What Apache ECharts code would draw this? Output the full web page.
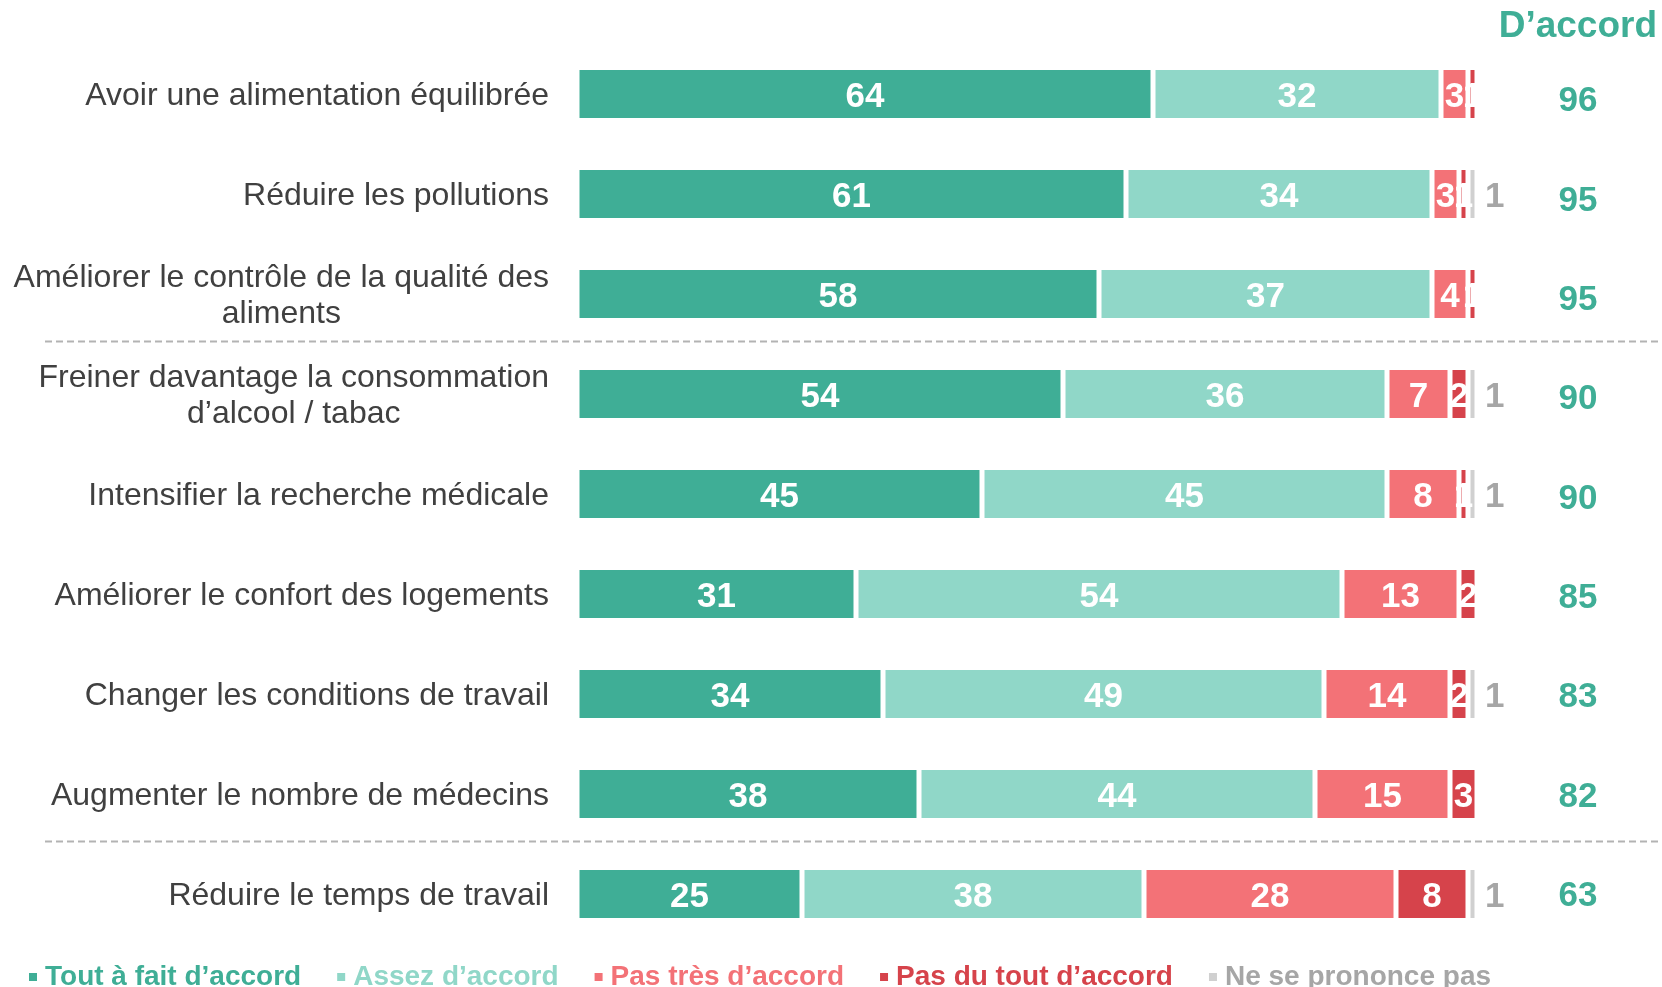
<!DOCTYPE html>
<html>
<head>
<meta charset="utf-8">
<script src="https://cdn.jsdelivr.net/npm/echarts@6/dist/echarts.min.js"></script>
<style>
  html, body { margin: 0; padding: 0; background: #fff; }
</style>
</head>
<body>
<div id="main" style="width: 1662px;height:987px;"></div>
<script type="text/javascript">
    // données
    var categories = [
        'Avoir une alimentation équilibrée',
        'Réduire les pollutions',
        'Améliorer le contrôle de la qualité des\naliments',
        'Freiner davantage la consommation\nd’alcool / tabac',
        'Intensifier la recherche médicale',
        'Améliorer le confort des logements',
        'Changer les conditions de travail',
        'Augmenter le nombre de médecins',
        'Réduire le temps de travail'
    ];
    var toutAFait = [64, 61, 58, 54, 45, 31, 34, 38, 25];
    var assez = [32, 34, 37, 36, 45, 54, 49, 44, 38];
    var pasTres = [3, 3, 4, 7, 8, 13, 14, 15, 28];
    var pasDuTout = [1, 1, 1, 2, 1, 2, 2, 3, 8];
    var nsp = [0, 1, 0, 1, 1, 0, 1, 0, 1];
    var dAccord = [96, 95, 95, 90, 90, 85, 83, 82, 63];

    var seriesNames = ['Tout à fait d’accord', 'Assez d’accord', 'Pas très d’accord', 'Pas du tout d’accord', 'Ne se prononce pas'];
    var colors = ['#3fae96', '#90d7c8', '#f37277', '#d6434b', '#d0d0d0'];
    var legendTextColors = ['#3fae96', '#90d7c8', '#f37277', '#d6434b', '#a6a6a6'];
    var values = [toutAFait, assez, pasTres, pasDuTout, nsp];

    var sans = "'Liberation Sans', Arial, sans-serif";

    var myChart = echarts.init(document.getElementById('main'));

    var series = values.map(function (arr, i) {
        var last = (i === 4);
        return {
            name: seriesNames[i],
            type: 'bar',
            stack: 'total',
            barWidth: 53,
            data: arr,
            itemStyle: {
                color: colors[i],
                borderColor: '#fff',
                borderWidth: 2.5
            },
            label: {
                show: true,
                position: last ? 'right' : 'inside',
                distance: 8,
                offset: [0, 3],
                color: last ? '#a6a6a6' : '#fff',
                fontFamily: sans,
                fontWeight: 'bold',
                fontSize: 35,
                formatter: function (p) {
                    return p.value ? String(p.value) : '';
                }
            },
            emphasis: { disabled: true }
        };
    });

    var option = {
        animation: false,
        title: {
            text: 'D’accord',
            right: 5,
            top: 8,
            padding: 0,
            textStyle: {
                color: '#3fae96',
                fontFamily: sans,
                fontWeight: 'bold',
                fontSize: 37
            }
        },
        legend: {
            left: 24,
            top: 957,
            icon: 'rect',
            itemWidth: 8,
            itemHeight: 8,
            itemGap: 36,
            selectedMode: false,
            data: seriesNames.map(function (n, i) {
                return {
                    name: n,
                    itemStyle: { color: colors[i], borderWidth: 0 },
                    textStyle: { color: legendTextColors[i] }
                };
            }),
            textStyle: {
                fontFamily: sans,
                fontWeight: 'bold',
                fontSize: 28,
                lineHeight: 30,
                padding: [0, 0, 0, 3]
            }
        },
        grid: [{
            left: 577,
            right: 185,
            top: 44,
            bottom: 43
        }, {
            // colonne « D’accord », espacement légèrement différent
            left: 577,
            right: 185,
            top: 52,
            bottom: 41
        }],
        xAxis: [{
            type: 'value',
            min: 0,
            max: 100,
            show: false
        }, {
            type: 'value',
            gridIndex: 1,
            min: 0,
            max: 100,
            show: false
        }],
        yAxis: [{
            type: 'category',
            inverse: true,
            data: categories,
            axisLine: { show: false },
            axisTick: { show: false },
            axisLabel: {
                margin: 28,
                padding: [4, 0, 0, 0],
                formatter: function (v) {
                    return v.split('\n').map(function (l) { return '{c|' + l + '}'; }).join('\n');
                },
                rich: {
                    c: {
                        align: 'center',
                        color: '#404040',
                        fontFamily: sans,
                        fontSize: 32,
                        lineHeight: 36
                    }
                }
            }
        }, {
            type: 'category',
            gridIndex: 1,
            inverse: true,
            position: 'right',
            data: dAccord.map(String),
            axisLine: { show: false },
            axisTick: { show: false },
            axisLabel: {
                margin: 101,
                align: 'center',
                padding: [6, 0, 0, 0],
                color: '#3fae96',
                fontFamily: sans,
                fontWeight: 'bold',
                fontSize: 35
            }
        }],
        series: series
    };
    myChart.setOption(option);

    // lignes pointillées de séparation entre groupes
    var sepAfter = [2, 7];
    var lines = sepAfter.map(function (idx) {
        var y1 = myChart.convertToPixel({ yAxisIndex: 0 }, categories[idx]);
        var y2 = myChart.convertToPixel({ yAxisIndex: 0 }, categories[idx + 1]);
        var y = Math.round((y1 + y2) / 2) - 2.5;
        return {
            type: 'line',
            shape: { x1: 45, y1: y, x2: 1662, y2: y },
            style: { stroke: '#b3b3b3', lineWidth: 2, lineDash: [7, 4] },
            silent: true
        };
    });
    myChart.setOption({ graphic: lines });
</script>
</body>
</html>
